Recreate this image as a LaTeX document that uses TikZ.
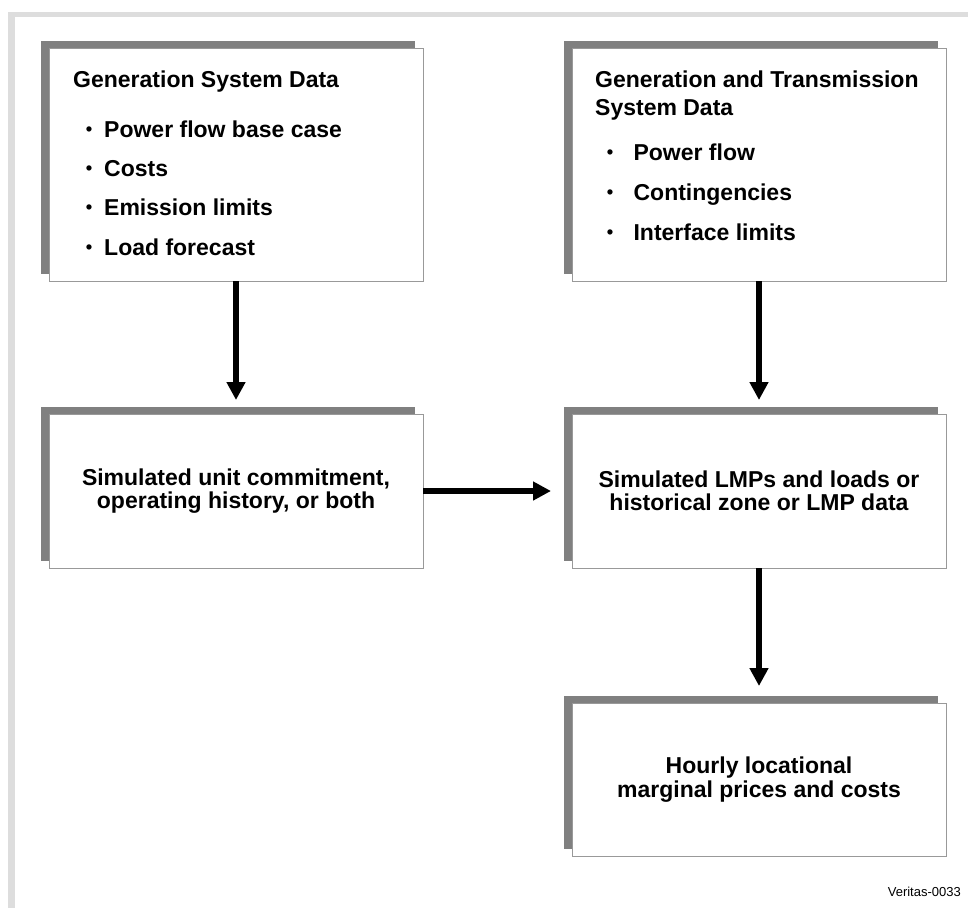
\documentclass[tikz,border=0pt]{standalone}
\usepackage{fontspec}
\setmainfont{Liberation Sans}
\usepackage{graphicx}
\usepackage{tikz}
\usetikzlibrary{arrows.meta,shadows}
\usepackage{xcolor}

\definecolor{shadowgray}{HTML}{808080}
\definecolor{edgegray}{HTML}{999999}
\definecolor{framegray}{HTML}{DDDDDD}

% bullet hanging left of the item text
\newcommand{\bul}[1][12pt]{\llap{\raisebox{1.2pt}{\scalebox{0.8}{\textbullet}}\hspace{#1}}}

\tikzset{
  panel/.style={draw=edgegray, line width=1pt, fill=white,
    minimum width=374pt, inner sep=0pt, outer sep=0pt,
    drop shadow={shadow xshift=-8pt, shadow yshift=7pt,
      fill=shadowgray, opacity=1}},
  boxtext/.style={font=\fontsize{23}{23.5}\selectfont\bfseries, align=center},
  listtext/.style={anchor=base west, inner sep=0pt,
    font=\fontsize{23}{23}\selectfont\bfseries},
  flow/.style={-{Triangle[length=18pt,width=18pt]}, line width=6pt}
}

\begin{document}
\begin{tikzpicture}[x=1pt, y=-1pt]

        \path[use as bounding box, fill=white] (0,0) rectangle (968,908);

        % page frame (top and left edges)
        \fill[framegray] (8,12) rectangle (968,17);
        \fill[framegray] (8,12) rectangle (15,908);

        % Input data (top row)
        \node[panel, minimum height=233pt] (gensys) at (236,164.5) {};
        \node[panel, minimum height=233pt] (gentrans) at (759,164.5) {};

        \node[listtext] (gensysT) at (73,87) {Generation System Data};
        \node[listtext] (gs1) at (104,137) {\bul Power flow base case};
        \node[listtext] (gs2) at (104,176) {\bul Costs};
        \node[listtext] (gs3) at (104,215) {\bul Emission limits};
        \node[listtext] (gs4) at (104,255) {\bul Load forecast};

        \node[listtext] (gentransT) at (595,87) {Generation and Transmission};
        \node[listtext] (gentransU) at (595,115) {System Data};
        \node[listtext] (gt1) at (627,160) {\bul[14pt] Power flow};
        \node[listtext] (gt2) at (627,200) {\bul[14pt] Contingencies};
        \node[listtext] (gt3) at (627,240) {\bul[14pt] Interface limits};

        % Simulation results (middle row)
        \node[panel, boxtext, minimum height=154pt] (commit) at (236,491)
            {Simulated unit commitment,\\operating history, or both};
        \node[panel, boxtext, minimum height=154pt] (lmp) at (759,491)
            {Simulated LMPs and loads or\\historical zone or LMP data};

        % Output (bottom)
        \node[panel, boxtext, minimum height=153pt] (prices) at (759,779.5)
            {Hourly locational\\marginal prices and costs};

        \draw[flow, shorten >=14pt] (gensys.south) -- (commit.north);
        \draw[flow, shorten >=14pt] (gentrans.south) -- (lmp.north);
        \draw[flow, shorten >=21pt] (commit.east) -- (lmp.west);
        \draw[flow, shorten >=17pt] (lmp.south) -- (prices.north);

        \node[anchor=base east, inner sep=0pt, font=\fontsize{13}{15}\selectfont]
            (tag) at (961,896) {Veritas-0033};

    \end{tikzpicture}
\end{document}
